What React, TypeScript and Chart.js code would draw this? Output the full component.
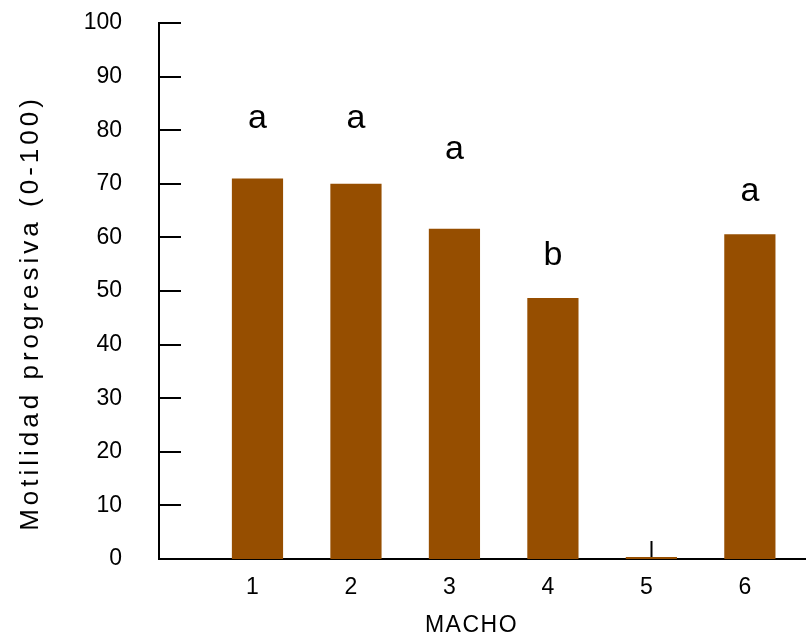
import React, { useEffect, useRef } from "react";
import { Chart, registerables } from "chart.js";

Chart.register(...registerables);

const machos = [1, 2, 3, 4, 5, 6];
const motilidad = [71.0, 70.0, 61.6, 48.7, 0, 60.6];
const letters = ["a", "a", "a", "b", "", "a"];
const letterBaseline = [80.4, 80.4, 74.6, 54.9, 0, 66.7];
const yTicks = [0, 10, 20, 30, 40, 50, 60, 70, 80, 90, 100];
const xTitle = "MACHO";
const yTitle = "Motilidad progresiva (0-100)";

const FONT = "'Liberation Sans', Arial, sans-serif";
const BAR_COLOR = "#964E00";

const inwardTicks = {
  id: "inwardTicks",
  beforeDatasetsDraw(chart: any) {
    const { ctx, chartArea, scales } = chart;
    ctx.save();
    ctx.strokeStyle = "#000";
    ctx.lineWidth = 2;
    ctx.beginPath();
    yTicks.forEach((v) => {
      const y = Math.round(scales.y.getPixelForValue(v));
      ctx.moveTo(chartArea.left, y);
      ctx.lineTo(chartArea.left + 22, y);
    });
    machos.forEach((m) => {
      const x = Math.round(scales.x.getPixelForValue(m)) + 0.5;
      ctx.moveTo(x, chartArea.bottom);
      ctx.lineTo(x, chartArea.bottom - 18);
    });
    ctx.stroke();
    ctx.restore();
  },
};

const extras = {
  id: "extras",
  afterDatasetsDraw(chart: any) {
    const { ctx, chartArea, scales } = chart;
    ctx.save();
    ctx.fillStyle = "#000";
    ctx.font = `34px ${FONT}`;
    ctx.textAlign = "center";
    ctx.textBaseline = "alphabetic";
    letters.forEach((l, i) => {
      if (!l) return;
      ctx.fillText(l, scales.x.getPixelForValue(machos[i]), scales.y.getPixelForValue(letterBaseline[i]));
    });
    ctx.font = `23px ${FONT}`;
    (ctx as any).letterSpacing = "1.5px";
    ctx.fillText(xTitle, (chartArea.left + chartArea.right) / 2 - 11, 632);
    ctx.font = `26px ${FONT}`;
    (ctx as any).letterSpacing = "4px";
    ctx.translate(31, 313);
    ctx.rotate(-Math.PI / 2);
    ctx.textBaseline = "middle";
    ctx.fillText(yTitle, 0, 0);
    ctx.restore();
  },
};

export default function App() {
  const ref = useRef<HTMLCanvasElement>(null);
  useEffect(() => {
    document.body.style.margin = "0";
    const chart = new Chart(ref.current!, {
      type: "bar",
      data: {
        labels: machos,
        datasets: [
          {
            data: motilidad,
            backgroundColor: BAR_COLOR,
            borderWidth: 0,
            barPercentage: 0.52,
            categoryPercentage: 1,
            minBarLength: 2,
          },
        ],
      },
      options: {
        responsive: false,
        animation: false,
        layout: { padding: { top: 23, right: 0, left: 0, bottom: 0 } },
        plugins: { legend: { display: false }, tooltip: { enabled: false }, title: { display: false } },
        scales: {
          x: {
            type: "linear",
            offset: false,
            min: 0,
            max: 6.57,
            grid: { display: false },
            border: { display: true, color: "#000", width: 2 },
            afterBuildTicks: (scale: any) => {
              scale.ticks = machos.map((v) => ({ value: v }));
            },
            afterFit: (scale: any) => {
              scale.height = 77;
              scale.paddingLeft = 0;
              scale.paddingRight = 0;
              scale.paddingTop = 0;
              scale.paddingBottom = 0;
            },
            ticks: {
              color: "#000",
              font: { family: FONT, size: 23 },
              padding: 7,
              labelOffset: -5,
              maxRotation: 0,
              autoSkip: false,
              callback: (v: any) => String(v),
            },
          },
          y: {
            min: 0,
            max: 100,
            grid: { display: false },
            border: { display: true, color: "#000", width: 2 },
            afterBuildTicks: (scale: any) => {
              scale.ticks = yTicks.map((v) => ({ value: v }));
            },
            afterFit: (scale: any) => {
              scale.width = 159;
              scale.paddingLeft = 0;
              scale.paddingRight = 0;
              scale.paddingTop = 0;
              scale.paddingBottom = 0;
            },
            ticks: {
              color: "#000",
              font: { family: FONT, size: 23 },
              padding: 29,
              callback: (v: any) => String(v),
            },
          },
        },
      },
      plugins: [inwardTicks, extras],
    } as any);
    return () => chart.destroy();
  }, []);
  return (
    <div style={{ position: "fixed", left: 0, top: 0, width: 806, height: 636, background: "#fff" }}>
      <canvas ref={ref} width={806} height={636} />
    </div>
  );
}
